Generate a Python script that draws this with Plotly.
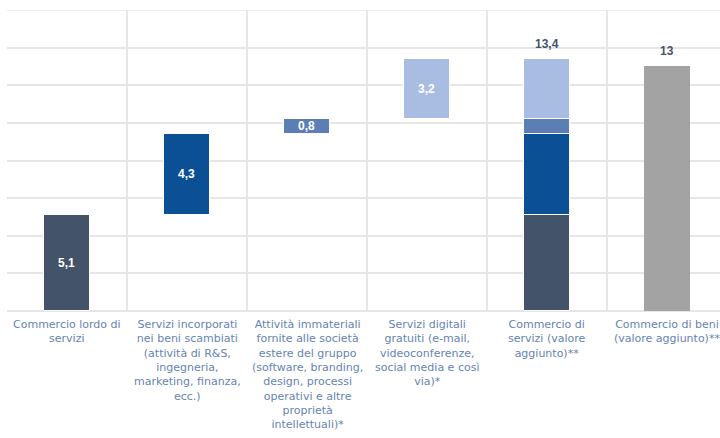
import plotly.graph_objects as go

# Category labels (wrapped) along the x axis
categories = [
    "Commercio lordo di<br>servizi",
    "Servizi incorporati<br>nei beni scambiati<br>(attività di R&S,<br>ingegneria,<br>marketing, finanza,<br>ecc.)",
    "Attività immateriali<br>fornite alle società<br>estere del gruppo<br>(software, branding,<br>design, processi<br>operativi e altre<br>proprietà<br>intellettuali)*",
    "Servizi digitali<br>gratuiti (e-mail,<br>videoconferenze,<br>social media e così<br>via)*",
    "Commercio di<br>servizi (valore<br>aggiunto)**",
    "Commercio di beni<br>(valore aggiunto)**",
]

# Components of services trade (waterfall steps)
component_values = [5.1, 4.3, 0.8, 3.2]
component_colors = ["#435369", "#0b4f94", "#5b7fb4", "#a8bde1"]

# Totals
services_total = 13.4
goods_total = 13.0
goods_color = "#a3a3a3"

x_pos = list(range(len(categories)))
bar_w = 0.38
grid_col = "#e6e6e6"

fig = go.Figure()

base = 0.0
for i, (val, col) in enumerate(zip(component_values, component_colors)):
    # Step bar in its own column, plus the same segment in the stacked total column
    fig.add_trace(go.Bar(
        x=[x_pos[i], x_pos[4]],
        y=[val, val],
        base=[base, base],
        width=bar_w,
        marker=dict(color=col, line=dict(color="white", width=1)),
        text=[f"{val:.1f}".replace(".", ","), ""],
        textposition="inside",
        insidetextanchor="middle",
        constraintext="none",
        textfont=dict(color="white", size=12, family="Liberation Sans", weight="bold"),
        hoverinfo="skip",
        showlegend=False,
    ))
    base += val

fig.add_trace(go.Bar(
    x=[x_pos[5]],
    y=[goods_total],
    width=bar_w,
    marker=dict(color=goods_color, line=dict(width=0)),
    hoverinfo="skip",
    showlegend=False,
))

# Totals above the last two columns
for xv, yv, txt in [(x_pos[4], services_total, "13,4"), (x_pos[5], goods_total, "13")]:
    fig.add_annotation(
        x=xv, y=yv, text=txt, showarrow=False, yanchor="bottom", yshift=6,
        font=dict(color="#44546a", size=12, family="Liberation Sans", weight="bold"),
    )

# Category labels under each column (drawn as annotations so the last one may run past the edge)
for xv, label in zip(x_pos, categories):
    fig.add_annotation(
        x=xv, y=0, xref="x", yref="y", text=label, showarrow=False,
        xanchor="center", yanchor="top", yshift=-5, align="center",
        font=dict(color="#6584b2", size=11, family="DejaVu Sans"),
    )

# Top border of the grid
fig.add_shape(type="line", xref="paper", yref="y", x0=0, x1=1, y0=16, y1=16,
              line=dict(color=grid_col, width=1.5), layer="below")

boundaries = [i - 0.5 for i in range(len(categories) + 1)]

fig.update_layout(
    width=720, height=438,
    margin=dict(l=7, r=0, t=10, b=127),
    paper_bgcolor="white", plot_bgcolor="white",
    barmode="overlay",
    bargap=0,
    xaxis=dict(
        range=[-0.5, 5.44],
        tickvals=x_pos,
        showticklabels=False,
        showgrid=False,
        zeroline=False,
        ticks="",
        minor=dict(tickvals=boundaries, showgrid=True, gridcolor=grid_col, gridwidth=1.5, ticks=""),
    ),
    yaxis=dict(
        range=[0, 16],
        dtick=2,
        showticklabels=False,
        showgrid=True,
        gridcolor=grid_col,
        gridwidth=1.5,
        zeroline=True,
        zerolinecolor=grid_col,
        zerolinewidth=1.5,
    ),
)

fig.write_html("out.html")
